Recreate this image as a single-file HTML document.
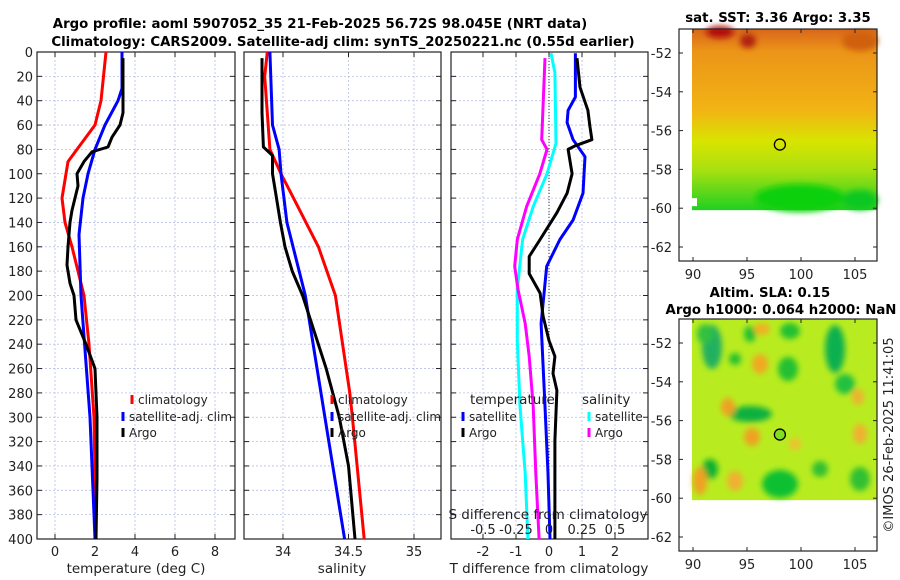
<!DOCTYPE html>
<html><head><meta charset="utf-8"><style>
body{margin:0;background:#fff}
svg{display:block;font-family:"DejaVu Sans","Liberation Sans",sans-serif}
.t{font-size:12px;fill:#222}
.k{font-size:13px;fill:#222}
.a{font-size:13.5px;fill:#222}
.b{font-size:13.3px;font-weight:bold;fill:#000}
</style></head><body>
<svg id="s" width="900" height="580" xmlns="http://www.w3.org/2000/svg">
<defs>
<linearGradient id="sst" x1="0" y1="0" x2="0" y2="1">
<stop offset="0" stop-color="#d9661a"/><stop offset="0.12" stop-color="#eb9418"/><stop offset="0.45" stop-color="#f2b414"/><stop offset="0.62" stop-color="#d8e400"/><stop offset="0.78" stop-color="#a8e010"/><stop offset="1" stop-color="#20d020"/>
</linearGradient>
<filter id="bl"><feGaussianBlur stdDeviation="3"/></filter>
</defs>
<g id="g"></g>
</svg>
<script>
// ---- data ----
const tDepthClim=[0,40,60,80,90,100,120,140,160,180,200,240,300,400];
const tClim=[2.55,2.3,2.0,1.1,0.65,0.55,0.35,0.5,0.85,1.15,1.45,1.7,1.95,2.05];
const tDepthSat=[0,30,40,60,80,100,120,150,200,300,400];
const tSat=[3.35,3.35,3.15,2.5,2.0,1.65,1.4,1.2,1.3,1.75,2.0];
const tDepthArgo=[5,50,60,70,78,82,90,100,110,120,130,140,160,175,190,200,220,240,260,300,350,400];
const tArgo=[3.4,3.4,3.25,2.85,2.65,1.85,1.45,1.1,1.15,1.0,0.85,0.75,0.65,0.6,0.75,0.95,1.05,1.55,2.0,2.1,2.1,2.05];
const sDepthClim=[0,20,80,100,120,160,200,280,300,400];
const sClim=[33.88,33.86,33.9,33.985,34.08,34.27,34.4,34.51,34.53,34.62];
const sDepthSat=[0,60,80,100,140,200,300,400];
const sSat=[33.9,33.92,33.97,33.985,34.03,34.17,34.32,34.47];
const sDepthArgo=[5,50,78,85,100,120,140,160,180,200,260,300,340,400];
const sArgo=[33.84,33.84,33.85,33.92,33.92,33.95,33.98,34.015,34.07,34.15,34.33,34.43,34.5,34.55];
const dDepthTs=[1,37,48,58,72,86,116,138,154,176,223,291,346,400];
const dTSat=[0.8,0.8,0.58,0.55,0.73,1.09,1.03,0.73,0.33,-0.07,-0.24,-0.12,-0.03,0.03];
const dDepthTa=[5,29,48,61,72,77,80,100,116,132,154,168,182,198,217,237,250,264,278,319,400];
const dTArgo=[0.85,0.94,1.18,1.24,1.3,0.8,0.58,0.7,0.55,0.24,-0.27,-0.6,-0.6,-0.27,-0.18,0,0.18,0.12,0.24,0.18,0.18];
const dDepthSs=[1,17,75,100,127,154,195,237,291,346,400];
const dSSat=[0.015,0.045,0.053,-0.015,-0.12,-0.2,-0.24,-0.24,-0.22,-0.18,-0.16];
const dDepthSa=[5,72,80,100,127,154,176,195,223,250,291,346,400];
const dSArgo=[-0.03,-0.055,-0.015,-0.07,-0.17,-0.24,-0.26,-0.235,-0.18,-0.15,-0.12,-0.1,-0.075];
const depthTicks=[0,20,40,60,80,100,120,140,160,180,200,220,240,260,280,300,320,340,360,380,400];
const tTicks=[0,2,4,6,8];
const sTicks=[34,34.5,35];
const dTicks=[-2,-1,0,1,2];
const dSTickLabels=["-0.5","-0.25","0","0.25","0.5"];
const dSTicks=[-0.5,-0.25,0,0.25,0.5];
const lonTicks=[90,95,100,105];
const latTicks=[-52,-54,-56,-58,-60,-62];

const NS="http://www.w3.org/2000/svg";
const G=document.getElementById('g');
function el(tag,attrs,parent){const e=document.createElementNS(NS,tag);for(const k in attrs)e.setAttribute(k,attrs[k]);(parent||G).appendChild(e);return e;}
function txt(x,y,s,cls,anchor,parent){const e=el('text',{x:x,y:y,class:cls,'text-anchor':anchor||'middle'},parent);e.textContent=s;return e;}
const Y0=52,Y1=539;
const yD=d=>Y0+(Y1-Y0)*d/400;
const xT=v=>55+20*v;
const xS=v=>283+131*(v-34);
const xDT=v=>549+33*v;
const xDS=v=>549+132*v;

function frame(x0,x1,name){
  const g=el('g',{});
  
  
  depthTicks.forEach(d=>{ if(d>0&&d<400) el('line',{x1:x0,x2:x1,y1:yD(d),y2:yD(d),stroke:'#b8bfe8','stroke-width':0.8,'stroke-dasharray':'2,2'},g);
    el('line',{x1:x0,x2:x0+5,y1:yD(d),y2:yD(d),stroke:'#222'},g);el('line',{x1:x1-5,x2:x1,y1:yD(d),y2:yD(d),stroke:'#222'},g);});
  return g;
}
function vgrid(g,ticks,fx){ticks.forEach(v=>{el('line',{x1:fx(v),x2:fx(v),y1:Y0,y2:Y1,stroke:'#b8bfe8','stroke-width':0.8,'stroke-dasharray':'2,2'},g);
  el('line',{x1:fx(v),x2:fx(v),y1:Y1-5,y2:Y1,stroke:'#222'},g);el('line',{x1:fx(v),x2:fx(v),y1:Y0,y2:Y0+5,stroke:'#222'},g);});}
function box(g,x0,x1){el('rect',{x:x0,y:Y0,width:x1-x0,height:Y1-Y0,fill:'none',stroke:'#222','stroke-width':1.2},g);}
function line(depths,vals,fx,color,name){
  const p=el('polyline',{points:depths.map((d,i)=>fx(vals[i]).toFixed(1)+','+yD(d).toFixed(1)).join(' '),fill:'none',stroke:color,'stroke-width':3,'stroke-linejoin':'round'});
  
  
}
function legend(x,y,color,label,name){
  const g=el('g',{});
  
  
  el('line',{x1:x,x2:x,y1:y-9,y2:y,stroke:color,'stroke-width':3},g);
  txt(x+6,y,label,'t','start',g);
}

// titles
txt(320,28,"Argo profile: aoml 5907052_35 21-Feb-2025 56.72S 98.045E (NRT data)",'b');
txt(343,46,"Climatology: CARS2009. Satellite-adj clim: synTS_20250221.nc (0.55d earlier)",'b');

// depth labels
depthTicks.forEach(d=>txt(33,yD(d)+5,String(d),'k','end'));

// panel 1
let g1=frame(37,235,'temperature-panel'); vgrid(g1,tTicks,xT); box(g1,37,235);
tTicks.forEach(v=>txt(xT(v),556,String(v),'k'));
txt(136,573,"temperature (deg C)",'a');
line(tDepthClim,tClim,xT,'#f00','temp-climatology-line');
line(tDepthSat,tSat,xT,'#00f','temp-satellite-line');
line(tDepthArgo,tArgo,xT,'#000','temp-argo-line');
legend(132,404,'#f00','climatology','legend-climatology');
legend(123,421,'#00f','satellite-adj. clim','legend-satellite');
legend(123,437,'#000','Argo','legend-argo');

// panel 2
let g2=frame(244,441,'salinity-panel'); vgrid(g2,sTicks,xS); box(g2,244,441);
sTicks.forEach(v=>txt(xS(v),556,String(v),'k'));
txt(342,573,"salinity",'a');
line(sDepthClim,sClim,xS,'#f00','sal-climatology-line');
line(sDepthSat,sSat,xS,'#00f','sal-satellite-line');
line(sDepthArgo,sArgo,xS,'#000','sal-argo-line');
legend(332,404,'#f00','climatology','legend-sal-climatology');
legend(332,421,'#00f','satellite-adj. clim','legend-sal-satellite');
legend(332,437,'#000','Argo','legend-sal-argo');

// panel 3
let g3=frame(451,648,'difference-panel'); vgrid(g3,dTicks,xDT);
el('line',{x1:xDT(0),x2:xDT(0),y1:Y0,y2:Y1,stroke:'#333','stroke-width':1,'stroke-dasharray':'1,2'},g3);
dTicks.forEach(v=>txt(xDT(v),556,String(v),'k'));
txt(549,573,"T difference from climatology",'a');
line(dDepthSs,dSSat,xDS,'#0ff','sal-diff-satellite-line');
line(dDepthSa,dSArgo,xDS,'#f0f','sal-diff-argo-line');
line(dDepthTs,dTSat,xDT,'#00f','temp-diff-satellite-line');
line(dDepthTa,dTArgo,xDT,'#000','temp-diff-argo-line');
box(g3,451,648);
txt(548,519,"S difference from climatology",'a');
dSTicks.forEach((v,i)=>txt(xDS(v),534,dSTickLabels[i],'k'));
txt(470,404,"temperature",'a','start');
legend(463,421,'#00f','satellite','legend-temp-satellite');
legend(463,437,'#000','Argo','legend-temp-argo');
txt(582,404,"salinity",'a','start');
legend(589,421,'#0ff','satellite','legend-sal-diff-satellite');
legend(589,437,'#f0f','Argo','legend-sal-diff-argo');

// maps
function map(top,name,kind){
  const g=el('g',{});
  
  
  const latY=l=>top+24+(-52-l)*19.4;
  const lonX=l=>693+(l-90)*10.8;
  const imgTop=top, imgBot=latY(-60.1);
  if(kind==='sst'){
    el('rect',{x:692,y:imgTop,width:185,height:imgBot-imgTop,fill:'url(#sst)'},g);
    const bl=el('g',{filter:'url(#bl)'},g);
    el('ellipse',{cx:720,cy:top+3,rx:14,ry:6,fill:'#b01010'},bl);
    el('ellipse',{cx:748,cy:top+12,rx:8,ry:7,fill:'#b02010'},bl);
    el('ellipse',{cx:860,cy:top+12,rx:18,ry:10,fill:'#d06010'},bl);
    el('ellipse',{cx:800,cy:imgBot-12,rx:45,ry:14,fill:'#10d010'},bl);
    el('ellipse',{cx:860,cy:imgBot-10,rx:18,ry:10,fill:'#10c820'},bl);
    el('rect',{x:692,y:imgBot-12,width:5,height:8,fill:'#fff'},g);
  } else {
    el('rect',{x:692,y:imgTop,width:185,height:imgBot-imgTop,fill:'#b8ec20'},g);
    const bl=el('g',{filter:'url(#bl)'},g);
    [[712,top+28,10,22,'#20b060'],[705,top+15,8,10,'#30c040'],[750,top+15,6,8,'#20c030'],[790,top+12,10,8,'#20c030'],[788,top+50,10,12,'#20c030'],[750,top+95,22,8,'#10b040'],[835,top+30,10,24,'#10b050'],[845,top+65,10,10,'#20c040'],[710,top+150,8,10,'#10b030'],[780,top+165,18,14,'#10c030'],[820,top+150,8,8,'#30c030'],[860,top+160,10,12,'#30c030'],[735,top+40,6,6,'#20c030']].forEach(a=>el('ellipse',{cx:a[0],cy:a[1],rx:a[2],ry:a[3],fill:a[4]},bl));
    [[762,top+10,8,6,'#f0b020'],[760,top+45,8,10,'#f0a820'],[728,top+88,7,9,'#f0a020'],[752,top+118,8,9,'#f0a020'],[700,top+162,7,14,'#f0a020'],[735,top+162,8,10,'#f0b030'],[860,top+115,7,10,'#f0b030'],[858,top+78,6,8,'#f0b030'],[795,top+125,6,6,'#f0c030']].forEach(a=>el('ellipse',{cx:a[0],cy:a[1],rx:a[2],ry:a[3],fill:a[4]},bl));
  }
  el('rect',{x:679,y:top,width:198,height:232,fill:'none',stroke:'#222','stroke-width':1.2},g);
  latTicks.forEach(l=>{el('line',{x1:877,x2:873,y1:latY(l),y2:latY(l),stroke:'#222'},g);el('line',{x1:679,x2:683,y1:latY(l),y2:latY(l),stroke:'#222'},g);txt(672,latY(l)+5,String(l),'k','end',g);});
  lonTicks.forEach(l=>{el('line',{x1:lonX(l),x2:lonX(l),y1:top+232,y2:top+228,stroke:'#222'},g);el('line',{x1:lonX(l),x2:lonX(l),y1:top,y2:top+4,stroke:'#222'},g);txt(lonX(l),top+250,String(l),'k','middle',g);});
  el('circle',{cx:lonX(98.045),cy:latY(-56.72),r:5.5,fill:kind==='sst'?'none':'#80e020',stroke:'#000','stroke-width':1.3},g);
}
map(29,'sst-map','sst');
map(319,'sla-map','sla');
txt(778,22,"sat. SST: 3.36 Argo: 3.35",'b');
txt(770,297,"Altim. SLA: 0.15",'b');
txt(781,314,"Argo h1000: 0.064 h2000: NaN",'b');
const c=txt(0,0,"©IMOS 26-Feb-2025 11:41:05",'k');
c.setAttribute('transform','translate(893,435) rotate(-90)');

</script>
</body></html>
